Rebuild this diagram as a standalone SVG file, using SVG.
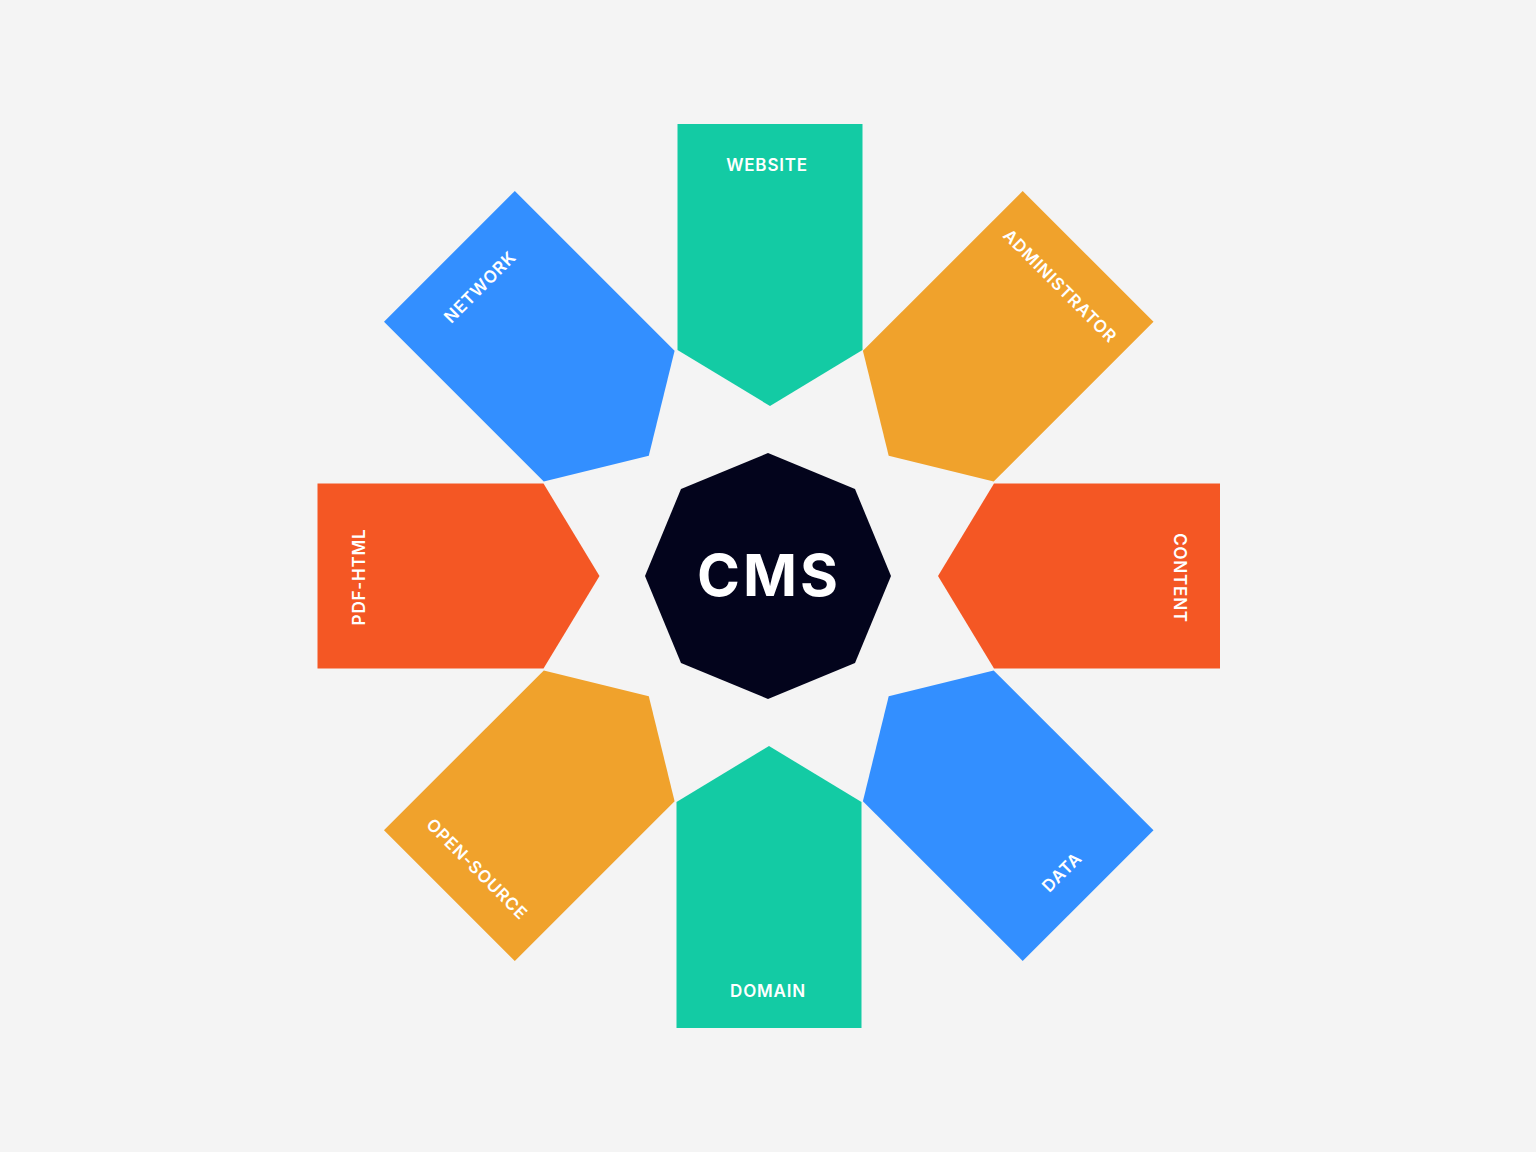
<svg xmlns="http://www.w3.org/2000/svg" xmlns:xlink="http://www.w3.org/1999/xlink" width="1536" height="1152" viewBox="0 0 1536 1152">
  <defs>
    <style>
      .lbl { font-family: Inter, "Noto Sans", "Liberation Sans", sans-serif; font-weight: 600; font-size: 17px; letter-spacing: 0.8px; fill: #FFFFFF; text-anchor: middle; dominant-baseline: central; }
      .teal { fill: #13CBA4; }
      .blue { fill: #338FFF; }
      .orange { fill: #F0A22C; }
      .red { fill: #F45724; }
    </style>
    <polygon id="arrow" points="-92.5,-452 92.5,-452 92.5,-226 0,-170 -92.5,-226"/>
  </defs>
  <rect width="1536" height="1152" fill="#F4F4F4"/>

  <g id="node-website">
    <use xlink:href="#arrow" class="teal" transform="translate(770,576) rotate(0)"/>
    <text class="lbl" x="767" y="165">WEBSITE</text>
  </g>
  <g id="node-administrator">
    <use xlink:href="#arrow" class="orange" transform="translate(768.5,576) rotate(45)"/>
    <text class="lbl" transform="translate(1060,286) rotate(45)">ADMINISTRATOR</text>
  </g>
  <g id="node-content">
    <use xlink:href="#arrow" class="red" transform="translate(768,576) rotate(90)"/>
    <text class="lbl" transform="translate(1180,578) rotate(90)">CONTENT</text>
  </g>
  <g id="node-data">
    <use xlink:href="#arrow" class="blue" transform="translate(768.5,576) rotate(135)"/>
    <text class="lbl" transform="translate(1062,872) rotate(-45)">DATA</text>
  </g>
  <g id="node-domain">
    <use xlink:href="#arrow" class="teal" transform="translate(769,576) rotate(180)"/>
    <text class="lbl" x="768" y="991">DOMAIN</text>
  </g>
  <g id="node-open-source">
    <use xlink:href="#arrow" class="orange" transform="translate(769,576) rotate(225)"/>
    <text class="lbl" transform="translate(477,869) rotate(45)">OPEN-SOURCE</text>
  </g>
  <g id="node-pdf-html">
    <use xlink:href="#arrow" class="red" transform="translate(769.5,576) rotate(270)"/>
    <text class="lbl" transform="translate(359,577) rotate(-90)">PDF-HTML</text>
  </g>
  <g id="node-network">
    <use xlink:href="#arrow" class="blue" transform="translate(769,576) rotate(315)"/>
    <text class="lbl" transform="translate(480,287) rotate(-45)">NETWORK</text>
  </g>

  <g id="node-cms">
    <polygon fill="#03041C" points="768,453 855,489 891,576 855,663 768,699 681,663 645,576 681,489"/>
    <text x="769" y="596" font-family="Inter, 'Noto Sans', 'Liberation Sans', sans-serif" font-weight="700" font-size="58" letter-spacing="3" fill="#FFFFFF" text-anchor="middle">CMS</text>
  </g>
</svg>
